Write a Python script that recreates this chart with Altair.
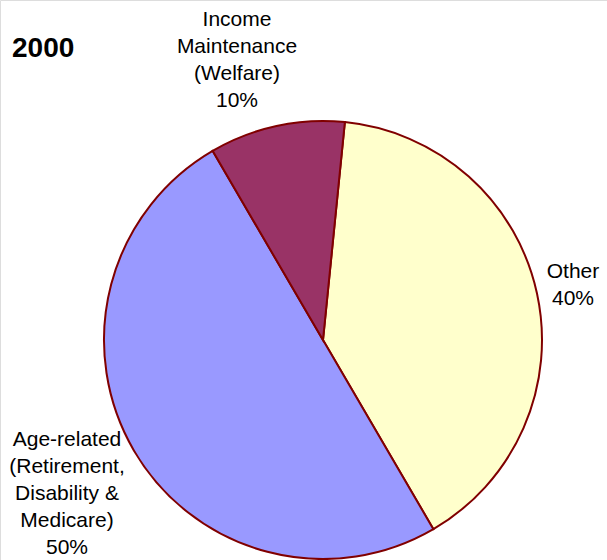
import math
import altair as alt
import pandas as pd

# Data
categories = ["Other", "Age-related", "Income Maintenance"]
values = [40, 50, 10]
label_texts = [
    "Other\n40%",
    "Age-related\n(Retirement,\nDisability &\nMedicare)\n50%",
    "Income\nMaintenance\n(Welfare)\n10%",
]
colors = ["#FFFFCC", "#9999FF", "#993366"]
order = [0, 1, 2]

# Layout (label first-line centres, pie centre)
label_x = [573, 67, 237]
label_y = [272, 440, 20]
cx, cy, r = 323, 340, 219
start = 0.1

df = pd.DataFrame({"cat": categories, "val": values, "ord": order})
ldf = pd.DataFrame({"cat": categories, "txt": [t.split("\n") for t in label_texts],
                    "lx": label_x, "ly": label_y})

pie = alt.Chart(df).mark_arc(
    outerRadius=r, stroke="#800000", strokeWidth=2
).encode(
    theta=alt.Theta("val:Q", stack=True,
                    scale=alt.Scale(range=[start, start + 2 * math.pi])),
    color=alt.Color("cat:N", scale=alt.Scale(domain=categories, range=colors), legend=None),
    order=alt.Order("ord:Q"),
    x=alt.value(cx),
    y=alt.value(cy),
)

labels = alt.Chart(ldf).mark_text(
    font="Liberation Sans", fontSize=21, lineHeight=27, align="center",
    baseline="middle", color="#000000"
).encode(
    x=alt.X("lx:Q", scale=None),
    y=alt.Y("ly:Q", scale=None),
    text="txt",
)

title = alt.Chart(pd.DataFrame({"t": ["2000"]})).mark_text(
    font="Liberation Sans", fontSize=28, fontWeight="bold", align="left",
    baseline="middle", color="#000000"
).encode(x=alt.value(12), y=alt.value(49), text="t:N")

chart = alt.layer(pie, labels, title).properties(
    width=607, height=560, autosize=alt.AutoSizeParams(type="none"), padding=0
).configure_view(stroke=None).configure(background="#FFFFFF")

chart.save("out.html", embed_options={"renderer": "svg", "actions": False})
